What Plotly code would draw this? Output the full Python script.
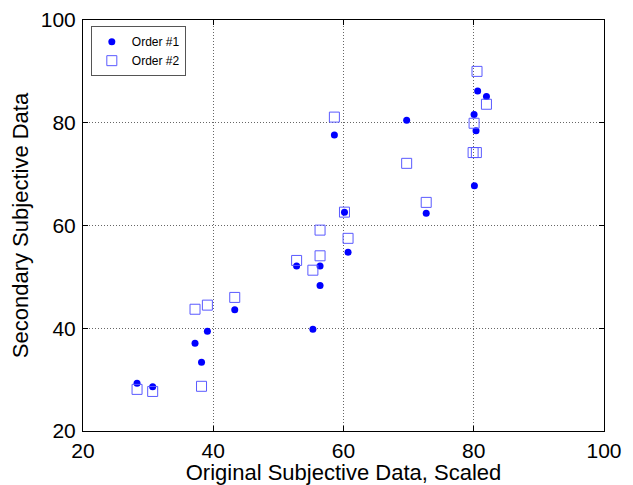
import plotly.graph_objects as go

# Scores from the two presentation orders
order1_x = [28.3, 30.7, 37.2, 38.2, 39.1, 43.3, 52.8, 55.3, 56.4, 56.4,
            58.6, 60.15, 60.7, 69.7, 72.7, 80.05, 80.35, 80.1, 80.6, 81.95]
order1_y = [29.3, 28.6, 37.1, 33.4, 39.4, 43.6, 52.1, 39.8, 52.1, 48.3,
            77.6, 62.6, 54.8, 80.5, 62.4, 81.6, 78.45, 67.75, 86.2, 85.1]

order2_x = [28.3, 30.7, 37.2, 38.2, 39.1, 43.3, 52.8, 55.3, 56.4, 56.4,
            58.6, 60.15, 60.7, 69.7, 72.7, 80.5, 81.95, 80.05, 79.9, 80.4]
order2_y = [28.1, 27.7, 43.7, 28.7, 44.5, 46.0, 53.2, 51.3, 54.1, 59.1,
            81.1, 62.6, 57.5, 72.1, 64.5, 90.0, 83.6, 79.9, 74.2, 74.2]

tick_vals = [20, 40, 60, 80, 100]

FONT = "Liberation Sans, Arial"

fig = go.Figure()
fig.add_trace(go.Scatter(
    x=order1_x, y=order1_y, mode="markers", name="Order #1",
    marker=dict(symbol="circle", size=7, color="#0000ff"),
))
fig.add_trace(go.Scatter(
    x=order2_x, y=order2_y, mode="markers", name="Order #2",
    marker=dict(symbol="square-open", size=10, color="#5a5aff",
                line=dict(width=1, color="#5a5aff")),
))

axis_common = dict(
    range=[20, 100], tickvals=tick_vals, ticktext=[str(v) for v in tick_vals],
    showline=True, linecolor="black", linewidth=1, mirror="ticks",
    ticks="inside", ticklen=5, tickcolor="black",
    showgrid=True, gridcolor="#666666", griddash="1px,2px", gridwidth=1,
    zeroline=False, automargin=False,
    tickfont=dict(family=FONT, size=21, color="black"),
)

fig.update_xaxes(
    **axis_common, ticklabelstandoff=1,
    title=dict(text="Original Subjective Data, Scaled", standoff=1,
               font=dict(family=FONT, size=22, color="black")),
)
fig.update_yaxes(
    **axis_common, ticklabelstandoff=2,
    title=dict(text="Secondary Subjective Data", standoff=6,
               font=dict(family=FONT, size=22, color="black")),
)

fig.update_layout(
    width=633, height=485,
    margin=dict(l=83, r=29, t=20, b=54),
    plot_bgcolor="white", paper_bgcolor="white",
    legend=dict(
        x=0.015, y=0.985, xanchor="left", yanchor="top",
        bordercolor="#555555", borderwidth=1, bgcolor="white",
        font=dict(family=FONT, size=12, color="black"),
        tracegroupgap=0,
    ),
)

fig.write_html("out.html")
